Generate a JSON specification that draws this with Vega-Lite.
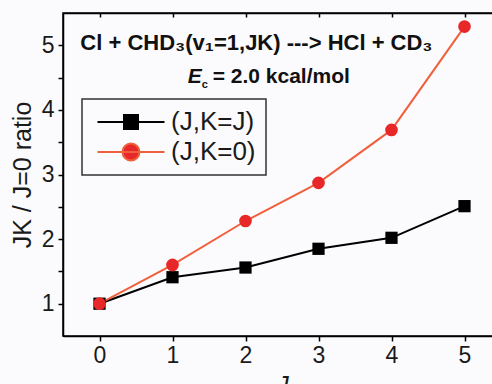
{
  "$schema": "https://vega.github.io/schema/vega-lite/v6.json",
  "width": 438,
  "height": 323,
  "autosize": {"type": "none"},
  "padding": {"left": 63, "top": 13, "right": 0, "bottom": 48},
  "background": "#fbfbfd",
  "config": {
    "font": "Liberation Sans",
    "view": {"stroke": "black", "strokeWidth": 1.5, "fill": "#fbfbfd"},
    "axis": {
      "domainColor": "black", "domainWidth": 1.5, "tickColor": "black", "tickWidth": 1.5,
      "labelFont": "Liberation Sans", "labelFontSize": 23, "labelColor": "#1a1a1a",
      "titleFont": "Liberation Sans", "titleFontWeight": "normal", "titleColor": "#1a1a1a",
      "grid": false
    }
  },
  "data": {
    "values": [
      {"J": 0, "ratio": 1.0, "series": "(J,K=J)"},
      {"J": 1, "ratio": 1.41, "series": "(J,K=J)"},
      {"J": 2, "ratio": 1.56, "series": "(J,K=J)"},
      {"J": 3, "ratio": 1.85, "series": "(J,K=J)"},
      {"J": 4, "ratio": 2.02, "series": "(J,K=J)"},
      {"J": 5, "ratio": 2.51, "series": "(J,K=J)"},
      {"J": 0, "ratio": 1.0, "series": "(J,K=0)"},
      {"J": 1, "ratio": 1.60, "series": "(J,K=0)"},
      {"J": 2, "ratio": 2.28, "series": "(J,K=0)"},
      {"J": 3, "ratio": 2.87, "series": "(J,K=0)"},
      {"J": 4, "ratio": 3.69, "series": "(J,K=0)"},
      {"J": 5, "ratio": 5.29, "series": "(J,K=0)"}
    ]
  },
  "resolve": {"axis": {"x": "independent", "y": "independent"}},
  "layer": [
    {
      "mark": {"type": "line", "strokeWidth": 2},
      "encoding": {
        "x": {"field": "J", "type": "quantitative", "scale": {"domain": [-0.5, 5.5], "nice": false, "zero": false},
          "axis": {"orient": "bottom", "values": [0, 1, 2, 3, 4, 5], "tickSize": 5, "labelPadding": 3, "title": "J", "titleFontStyle": "italic", "titleFontSize": 25, "titlePadding": 6}},
        "y": {"field": "ratio", "type": "quantitative", "scale": {"domain": [0.5, 5.5], "nice": false, "zero": false},
          "axis": {"orient": "left", "values": [1, 1.5, 2, 2.5, 3, 3.5, 4, 4.5, 5], "labelExpr": "datum.value % 1 === 0 ? format(datum.value, 'd') : ''", "tickSize": 5, "labelPadding": 4, "title": "JK / J=0 ratio", "titleFontSize": 25, "titlePadding": 6}},
        "stroke": {"field": "series", "type": "nominal", "scale": {"domain": ["(J,K=J)", "(J,K=0)"], "range": ["#000000", "#f0603c"]},
          "legend": {
            "title": null, "orient": "none", "legendX": 19, "legendY": 86,
            "padding": 10, "strokeColor": "#333333", "fillColor": "#fbfbfd",
            "symbolSize": 400, "symbolOffset": 26, "labelOffset": 27,
            "labelFont": "Liberation Sans", "labelFontSize": 26, "labelColor": "#1a1a1a",
            "labelExpr": "datum.label + ' '",
            "rowPadding": 4,
            "encode": {
              "legend": {"update": {"strokeWidth": {"value": 1.5}}},
              "symbols": {"update": {
                "shape": {"signal": "datum.value === '(J,K=J)' ? 'M-3.35,0H3.35M-0.7,-0.7H0.7V0.7H-0.7Z' : 'M-3.35,0H3.35M0.85,0A0.85,0.85,0,1,1,-0.85,0A0.85,0.85,0,1,1,0.85,0Z'"},
                "fill": {"signal": "datum.value === '(J,K=J)' ? '#000000' : '#e82828'"},
                "stroke": {"signal": "datum.value === '(J,K=J)' ? '#000000' : '#f0603c'"},
                "strokeWidth": {"value": 2},
                "opacity": {"value": 1}
              }}
            }
          }
        }
      }
    },
    {
      "transform": [{"filter": "datum.series === '(J,K=J)'"}],
      "mark": {"type": "point", "filled": true, "opacity": 1, "size": 150, "shape": "square", "color": "#000000"},
      "encoding": {
        "x": {"field": "J", "type": "quantitative",
          "axis": {"orient": "top", "values": [0, 1, 2, 3, 4, 5], "labels": false, "tickSize": -4, "title": null}},
        "y": {"field": "ratio", "type": "quantitative", "axis": null}
      }
    },
    {
      "transform": [{"filter": "datum.series === '(J,K=0)'"}],
      "mark": {"type": "point", "filled": true, "opacity": 1, "size": 160, "shape": "circle", "color": "#e82828"},
      "encoding": {
        "x": {"field": "J", "type": "quantitative", "axis": null},
        "y": {"field": "ratio", "type": "quantitative", "axis": null}
      }
    },
    {
      "data": {"values": [{"t": "Cl + CHD₃(v₁=1,JK) ---> HCl + CD₃"}]},
      "mark": {"type": "text", "font": "Liberation Sans", "fontWeight": "bold", "fontSize": 22, "align": "center", "baseline": "alphabetic", "color": "#111111"},
      "encoding": {
        "x": {"datum": 2.15, "type": "quantitative", "axis": null},
        "y": {"datum": 4.93, "type": "quantitative", "axis": null},
        "text": {"field": "t"}
      }
    },
    {
      "data": {"values": [{"t": "= 2.0 kcal/mol"}]},
      "mark": {"type": "text", "font": "Liberation Sans", "fontWeight": "bold", "fontSize": 21, "align": "left", "baseline": "alphabetic", "color": "#111111"},
      "encoding": {
        "x": {"datum": 1.55, "type": "quantitative", "axis": null},
        "y": {"datum": 4.42, "type": "quantitative", "axis": null},
        "text": {"field": "t"}
      }
    },
    {
      "data": {"values": [{"t": "E"}]},
      "mark": {"type": "text", "font": "Liberation Sans", "fontWeight": "bold", "fontStyle": "italic", "fontSize": 21, "align": "right", "baseline": "alphabetic", "dx": -11, "color": "#111111"},
      "encoding": {
        "x": {"datum": 1.55, "type": "quantitative", "axis": null},
        "y": {"datum": 4.42, "type": "quantitative", "axis": null},
        "text": {"field": "t"}
      }
    },
    {
      "data": {"values": [{"t": "c"}]},
      "mark": {"type": "text", "font": "Liberation Sans", "fontWeight": "bold", "fontSize": 11, "align": "left", "baseline": "alphabetic", "dx": -11, "dy": 5, "color": "#111111"},
      "encoding": {
        "x": {"datum": 1.55, "type": "quantitative", "axis": null},
        "y": {"datum": 4.42, "type": "quantitative", "axis": null},
        "text": {"field": "t"}
      }
    }
  ]
}
